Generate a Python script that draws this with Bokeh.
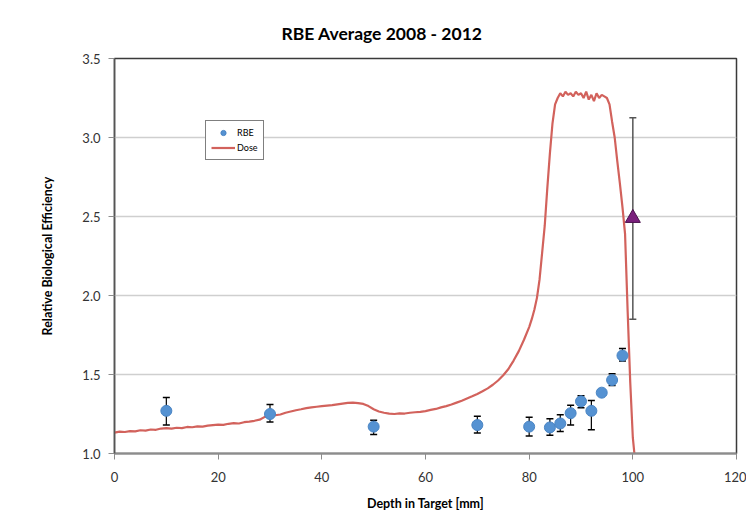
from bokeh.plotting import figure
from bokeh.models import (ColumnDataSource, Whisker, TeeHead, FixedTicker, Range1d,
                          Legend, LegendItem, NumeralTickFormatter)
from bokeh.embed import file_html
from bokeh.resources import INLINE

# ---------------- data ----------------
dose_x = [0, 1, 2, 3, 4, 5, 6, 7, 8, 9, 10, 11, 12, 13, 14, 15, 16, 17, 18, 19,
          20, 21, 22, 23, 24, 25, 26, 27, 28, 29, 30, 31, 32, 33, 34, 35, 36, 37, 38, 39,
          40, 41, 42, 43, 44, 45, 46, 47, 48, 49, 50, 51, 52, 53, 54, 55, 56, 57, 58, 59,
          60, 61, 62, 63, 64, 65, 66, 67, 68, 69, 70, 71, 72, 73, 74, 75, 76, 77, 78, 79,
          80, 80.5, 81, 81.5, 82, 82.5, 83, 83.5, 84, 84.5, 85, 85.5, 86, 86.5, 87, 87.5,
          88, 88.5, 89, 89.5, 90, 90.5, 91, 91.5, 92, 92.5, 93, 93.5, 94, 94.5, 95, 95.5,
          96, 96.5, 97, 97.5, 98, 98.5, 99, 99.5, 100, 100.3]
dose_y = [1.132, 1.138, 1.136, 1.142, 1.140, 1.147, 1.145, 1.152, 1.150, 1.158,
          1.160, 1.157, 1.163, 1.161, 1.168, 1.166, 1.172, 1.170, 1.176, 1.180,
          1.183, 1.181, 1.188, 1.192, 1.190, 1.198, 1.202, 1.207, 1.214, 1.232,
          1.236, 1.242, 1.247, 1.258, 1.266, 1.274, 1.280, 1.287, 1.292, 1.296,
          1.300, 1.303, 1.306, 1.311, 1.316, 1.320, 1.322, 1.319, 1.314, 1.300,
          1.280, 1.266, 1.258, 1.252, 1.250, 1.254, 1.253, 1.258, 1.261, 1.264,
          1.268, 1.276, 1.282, 1.292, 1.300, 1.310, 1.322, 1.334, 1.348, 1.362,
          1.377, 1.394, 1.412, 1.435, 1.462, 1.495, 1.535, 1.588, 1.648, 1.720,
          1.800, 1.850, 1.910, 1.985, 2.100, 2.270, 2.440, 2.680, 2.900, 3.090,
          3.210, 3.250, 3.280, 3.260, 3.290, 3.270, 3.280, 3.260, 3.290, 3.270,
          3.280, 3.250, 3.290, 3.240, 3.270, 3.230, 3.280, 3.250, 3.270, 3.260,
          3.250, 3.210, 3.100, 3.000, 2.850, 2.710, 2.560, 2.390, 1.900, 1.450,
          1.100, 1.000]

rbe_x = [10, 30, 50, 70, 80, 84, 86, 88, 90, 92, 94, 96, 98]
rbe_y = [1.27, 1.25, 1.17, 1.18, 1.17, 1.165, 1.19, 1.255, 1.33, 1.27, 1.385, 1.465, 1.62]
rbe_lo = [1.18, 1.20, 1.12, 1.13, 1.11, 1.115, 1.14, 1.18, 1.29, 1.15, 1.37, 1.43, 1.585]
rbe_hi = [1.355, 1.31, 1.21, 1.235, 1.23, 1.22, 1.245, 1.305, 1.365, 1.335, 1.40, 1.505, 1.665]

tri_x = [100]
tri_y = [2.49]
tri_lo = [1.85]
tri_hi = [3.125]

x_ticks = [0, 20, 40, 60, 80, 100, 120]
y_ticks = [1.0, 1.5, 2.0, 2.5, 3.0, 3.5]

FONT = "Lato"

p = figure(width=746, height=514, output_backend="svg", toolbar_location=None,
           x_range=Range1d(0, 120), y_range=Range1d(1.0, 3.5),
           min_border_left=114, min_border_right=10, min_border_top=58,
           min_border_bottom=61)

p.title.text = "RBE Average 2008 - 2012"
p.title.align = "left"
p.title.offset = 167
p.title.standoff = 30
p.title.text_font = FONT
p.title.text_font_size = "17.5px"
p.title.text_font_style = "bold"
p.title.text_color = "#000000"

p.outline_line_color = "#3a3a3a"
p.outline_line_width = 1.5

p.xgrid.visible = False
p.ygrid.grid_line_color = "#cfcfcf"
p.ygrid.grid_line_width = 1.5
p.ygrid.ticker = FixedTicker(ticks=y_ticks)

p.xaxis.ticker = FixedTicker(ticks=x_ticks)
p.yaxis.ticker = FixedTicker(ticks=y_ticks)
p.yaxis.formatter = NumeralTickFormatter(format="0.0")
for ax in (p.xaxis[0], p.yaxis[0]):
    ax.major_tick_in = 0
    ax.major_tick_out = 6
    ax.minor_tick_line_color = None
    ax.major_label_text_font = FONT
    ax.major_label_text_font_size = "13px"
    ax.major_label_text_color = "#333333"
    ax.axis_label_text_font = FONT
    ax.axis_label_text_font_size = "12.5px"
    ax.axis_label_text_font_style = "bold"
    ax.axis_label_text_color = "#000000"
p.xaxis.axis_line_color = "#8c8c8c"
p.xaxis.axis_line_width = 2
p.xaxis.major_tick_line_color = "#8c8c8c"
p.xaxis.major_label_standoff = 12
p.xaxis.axis_label = "Depth in Target [mm]"
p.xaxis.axis_label_standoff = 11
p.yaxis.axis_line_color = "#555555"
p.yaxis.axis_line_width = 1.5
p.yaxis.major_tick_line_color = "#8c8c8c"
p.yaxis.major_label_standoff = 8
p.yaxis.axis_label = "Relative Biological Efficiency"
p.yaxis.axis_label_standoff = 24

dose_src = ColumnDataSource(dict(x=dose_x, y=dose_y))
rbe_src = ColumnDataSource(dict(x=rbe_x, y=rbe_y, lo=rbe_lo, hi=rbe_hi))
tri_src = ColumnDataSource(dict(x=tri_x, y=tri_y, lo=tri_lo, hi=tri_hi))

dose_r = p.line("x", "y", source=dose_src, line_color="#d2625c", line_width=2.2)

w1 = Whisker(base="x", lower="lo", upper="hi", source=rbe_src, line_color="#000000",
             line_width=1.2,
             upper_head=TeeHead(size=7, line_color="#000000", line_width=1.5),
             lower_head=TeeHead(size=7, line_color="#000000", line_width=1.5))
p.add_layout(w1)
w2 = Whisker(base="x", lower="lo", upper="hi", source=tri_src, line_color="#555555",
             line_width=1.5,
             upper_head=TeeHead(size=7, line_color="#555555", line_width=1.5),
             lower_head=TeeHead(size=7, line_color="#555555", line_width=1.5))
p.add_layout(w2)

rbe_r = p.scatter("x", "y", source=rbe_src, marker="circle", size=11,
                  fill_color="#5592d2", line_color="#4a85c4", line_width=1)
tri_r = p.scatter("x", "y", source=tri_src, marker="triangle", size=15,
                  fill_color="#7a1f7c", line_color="#4a0f4c", line_width=1)

legend = Legend(items=[LegendItem(label="RBE", renderers=[rbe_r]),
                       LegendItem(label="Dose", renderers=[dose_r])],
                location=(91, 293))
legend.label_text_font = FONT
legend.label_text_font_size = "9px"
legend.label_text_color = "#000000"
legend.glyph_width = 24
legend.glyph_height = 13
legend.label_height = 13
legend.label_standoff = 2
legend.spacing = 2
legend.padding = 5
legend.margin = 0
legend.border_line_color = "#000000"
legend.border_line_width = 1
legend.background_fill_color = "#ffffff"
legend.background_fill_alpha = 1
p.add_layout(legend)

open("out.html", "w").write(file_html(p, INLINE))
